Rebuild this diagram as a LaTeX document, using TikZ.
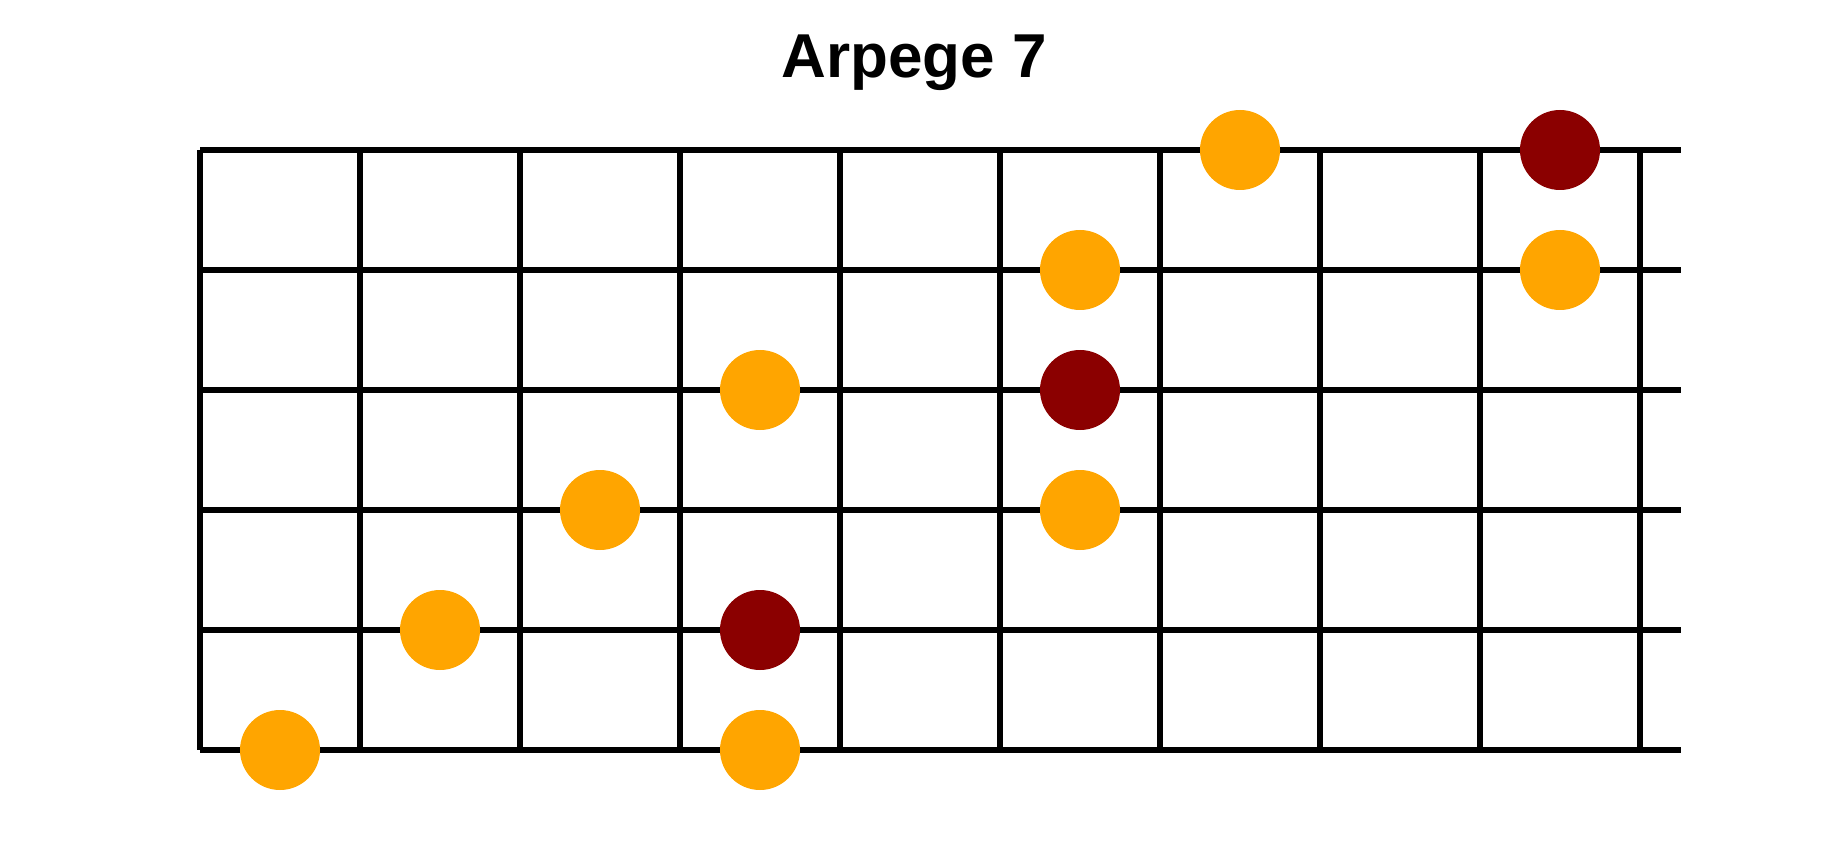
\documentclass[tikz,border=0pt]{standalone}
\usepackage{fontspec}
\setmainfont{Liberation Sans}
\usepackage{tikz}

\definecolor{noteorange}{HTML}{FFA500}
\definecolor{rootred}{HTML}{8B0000}

\tikzset{
  wire/.style={line width=5.5pt},
  note/.style={circle, fill=noteorange, minimum size=80pt, inner sep=0pt},
  root/.style={circle, fill=rootred, minimum size=80pt, inner sep=0pt}
}

\begin{document}
\begin{tikzpicture}[x=1pt,y=-1pt]
\useasboundingbox (0,0) rectangle (1840,850);

\node[anchor=base] (title) at (914,78)
{\fontsize{62}{74}\selectfont\bfseries Arpege 7};

% strings
\draw[wire] (200,150) -- (1681,150);
\draw[wire] (200,270) -- (1681,270);
\draw[wire] (200,390) -- (1681,390);
\draw[wire] (200,510) -- (1681,510);
\draw[wire] (200,630) -- (1681,630);
\draw[wire] (200,750) -- (1681,750);

% frets
\draw[wire] (200,150) -- (200,750);
\draw[wire] (360,150) -- (360,750);
\draw[wire] (520,150) -- (520,750);
\draw[wire] (680,150) -- (680,750);
\draw[wire] (840,150) -- (840,750);
\draw[wire] (1000,150) -- (1000,750);
\draw[wire] (1160,150) -- (1160,750);
\draw[wire] (1320,150) -- (1320,750);
\draw[wire] (1480,150) -- (1480,750);
\draw[wire] (1640,150) -- (1640,750);

% notes
\node[note] (s6f1) at (280,750) {};
\node[note] (s6f4) at (760,750) {};

\node[note] (s5f2) at (440,630) {};
\node[root] (s5f4) at (760,630) {};

\node[note] (s4f3) at (600,510) {};
\node[note] (s4f6) at (1080,510) {};

\node[note] (s3f4) at (760,390) {};
\node[root] (s3f6) at (1080,390) {};

\node[note] (s2f6) at (1080,270) {};
\node[note] (s2f9) at (1560,270) {};

\node[note] (s1f7) at (1240,150) {};
\node[root] (s1f9) at (1560,150) {};
\end{tikzpicture}
\end{document}
